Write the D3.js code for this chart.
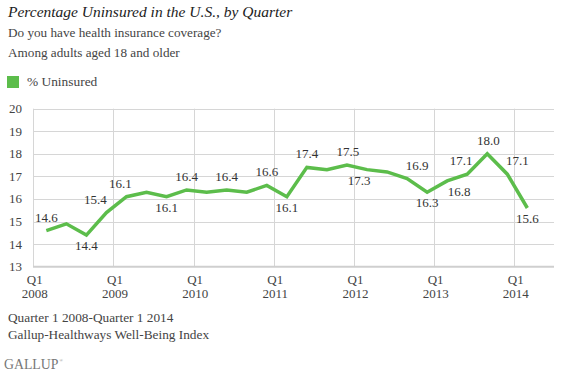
<!DOCTYPE html>
<html>
<head>
<meta charset="utf-8">
<script src="https://cdn.jsdelivr.net/npm/d3@7"></script>
<style>
  html, body { margin: 0; padding: 0; background: #fff; }
  svg { display: block; }
  text { font-family: "Liberation Serif", "Times New Roman", serif; }
</style>
</head>
<body>
<svg id="chart" width="564" height="385"></svg>
<script>
// ---------- data ----------
const quarters = [
  "Q1 2008","Q2 2008","Q3 2008","Q4 2008",
  "Q1 2009","Q2 2009","Q3 2009","Q4 2009",
  "Q1 2010","Q2 2010","Q3 2010","Q4 2010",
  "Q1 2011","Q2 2011","Q3 2011","Q4 2011",
  "Q1 2012","Q2 2012","Q3 2012","Q4 2012",
  "Q1 2013","Q2 2013","Q3 2013","Q4 2013",
  "Q1 2014"
];
const uninsured = [
  14.6, 14.9, 14.4, 15.4,
  16.1, 16.3, 16.1, 16.4,
  16.3, 16.4, 16.3, 16.6,
  16.1, 17.4, 17.3, 17.5,
  17.3, 17.2, 16.9, 16.3,
  16.8, 17.1, 18.0, 17.1,
  15.6
];
const yTicks = [13, 14, 15, 16, 17, 18, 19, 20];
const yearTicks = ["2008", "2009", "2010", "2011", "2012", "2013", "2014"];
const seriesName = "% Uninsured";
const title = "Percentage Uninsured in the U.S., by Quarter";
const subtitles = ["Do you have health insurance coverage?", "Among adults aged 18 and older"];
const footnotes = ["Quarter 1 2008-Quarter 1 2014", "Gallup-Healthways Well-Being Index"];

// ---------- drawing ----------
const green = "#5cbd4b";
const textCol = "#444";
const svg = d3.select("#chart");

// label placement: t = above, b = below, with horizontal nudges
const labelPlacement = {
  0: ["t", 0], 2: ["b", 0], 3: ["t", -11], 4: ["t", -6], 6: ["b", 0],
  7: ["t", 0], 9: ["t", 0], 11: ["t", 0], 12: ["b", 0], 13: ["t", 0],
  15: ["t", 1], 16: ["b", -8], 18: ["t", 10], 19: ["b", 0], 20: ["b", 12],
  21: ["t", -6], 22: ["t", 1], 23: ["t", 10], 24: ["b", 0]
};

const idx = d3.range(quarters.length);
const x = d3.scaleLinear().domain([-0.65, 25.33]).range([33.3, 554]);
const y = d3.scaleLinear().domain([13, 20]).range([266.7, 108.7]);

// title & subtitles
svg.append("text").attr("x", 8).attr("y", 17)
  .attr("font-size", 15.5).attr("font-style", "italic").attr("fill", "#222")
  .text(title);
subtitles.forEach((s, i) => {
  svg.append("text").attr("x", 8).attr("y", 37 + i * 20)
    .attr("font-size", 13.2).attr("fill", textCol).text(s);
});

// legend
svg.append("rect").attr("x", 7).attr("y", 76).attr("width", 12).attr("height", 12).attr("fill", green);
svg.append("text").attr("x", 27).attr("y", 86).attr("font-size", 13.4).attr("fill", textCol).text(seriesName);

// horizontal grid
const g = svg.append("g");
g.selectAll("line.h").data(yTicks.filter(t => t !== 13)).join("line")
  .attr("x1", 33).attr("x2", 554)
  .attr("y1", d => Math.round(y(d)) + 0.5).attr("y2", d => Math.round(y(d)) + 0.5)
  .attr("stroke", "#d6d6d6").attr("stroke-width", 1);

// vertical grid at first quarter of each year
const yearIdx = yearTicks.map((_, k) => k * 4 - 0.65);
g.selectAll("line.v").data(yearIdx).join("line")
  .attr("x1", d => Math.round(x(d)) + 0.5).attr("x2", d => Math.round(x(d)) + 0.5)
  .attr("y1", y(20)).attr("y2", y(13))
  .attr("stroke", "#d6d6d6").attr("stroke-width", 1);

// baseline axis
g.append("line").attr("x1", 33).attr("x2", 554)
  .attr("y1", y(13)).attr("y2", y(13))
  .attr("stroke", "#cfcfcf").attr("stroke-width", 2);

// y labels
g.selectAll("text.y").data(yTicks).join("text")
  .attr("x", 22).attr("y", d => y(d) + 4.5)
  .attr("text-anchor", "end").attr("font-size", 13).attr("fill", textCol)
  .text(d => d);

// x labels
yearTicks.forEach((yr, k) => {
  const xx = x(yearIdx[k]) + 1.5;
  g.append("text").attr("x", xx).attr("y", 284).attr("text-anchor", "middle")
    .attr("font-size", 13).attr("fill", textCol).text("Q1");
  g.append("text").attr("x", xx).attr("y", 298).attr("text-anchor", "middle")
    .attr("font-size", 13).attr("fill", textCol).text(yr);
});

// line
const line = d3.line().x(i => x(i)).y(i => y(uninsured[i]));
svg.append("path").datum(idx).attr("d", line)
  .attr("fill", "none").attr("stroke", green).attr("stroke-width", 3.5)
  .attr("stroke-linejoin", "miter").attr("stroke-linecap", "butt");

// data labels
Object.keys(labelPlacement).forEach(k => {
  const i = +k;
  const [pos, dx] = labelPlacement[k];
  svg.append("text")
    .attr("x", x(i) + dx)
    .attr("y", y(uninsured[i]) + (pos === "t" ? -9 : 15))
    .attr("text-anchor", "middle").attr("font-size", 13).attr("fill", "#333")
    .text(d3.format(".1f")(uninsured[i]));
});

// footnotes
footnotes.forEach((s, i) => {
  svg.append("text").attr("x", 8).attr("y", 322 + i * 16.5)
    .attr("font-size", 13.3).attr("fill", textCol).text(s);
});

// logo
const logo = svg.append("text").attr("x", 4).attr("y", 369).attr("font-size", 13.8)
  .attr("fill", "#777").text("GALLUP");
const lw = logo.node().getComputedTextLength();
svg.append("text").attr("x", 4 + lw + 1).attr("y", 362).attr("font-size", 4.5)
  .attr("fill", "#888").text("®");
</script>
</body>
</html>
